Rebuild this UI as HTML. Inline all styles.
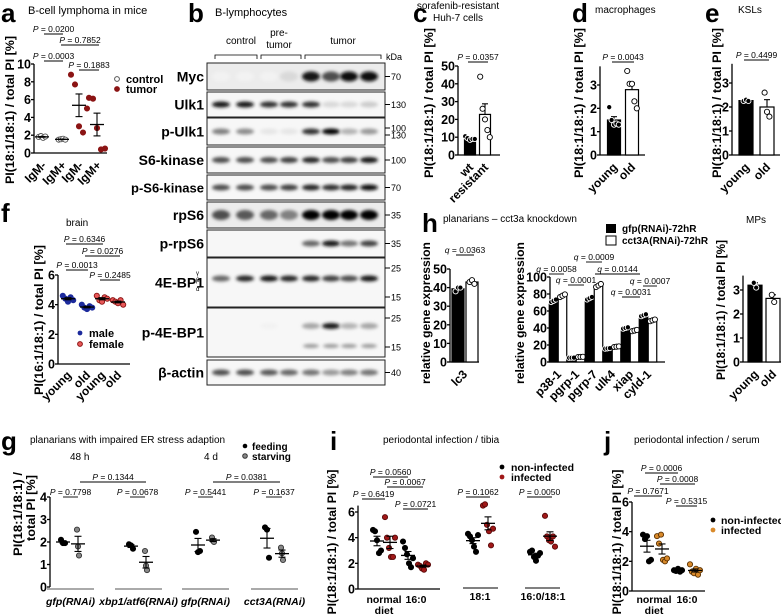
<!DOCTYPE html>
<html><head><meta charset="utf-8"><style>
html,body{margin:0;padding:0;background:#fff}
svg{display:block;font-family:"Liberation Sans",Arial,sans-serif}
</style></head><body>
<svg id="fig" width="781" height="614" viewBox="0 0 781 614" xmlns="http://www.w3.org/2000/svg">
<defs><filter id="blur" x="-50%" y="-100%" width="200%" height="300%"><feGaussianBlur stdDeviation="1.6"/></filter></defs>
</svg>
<script>
// ---------- data ----------
const aGroups=[[1.8,1.9,1.7,1.85],[1.5,1.55,1.6,1.5],[8.8,7.7,3.0,2.3,5.0],[6.2,6.1,2.8,0.4,0.5]];
const aLabels=["IgM-","IgM+","IgM-","IgM+"];
const fGroups=[[4.6,4.4,4.2,4.5,4.3],[4.0,3.8,3.7,3.9,3.8],[4.6,4.3,4.2,4.5,4.4],[4.3,4.2,4.1,4.3,4.0]];
const fLabels=["young","old","young","old"];
const cWt=[10.5,9.5,8.5,9,9];
const cRes=[44,26,20,14,10];
const cLabels=["wt","resistant"];
const dYoung=[2.05,1.5,1.3,1.35,1.3];
const dOld=[3.6,3.05,3.05,2.3,2.0];
const eYoung=[2.25,2.3,2.25];
const eOld=[2.6,1.8,1.6];
const ageLabels=["young","old"];
const hLc3Gfp=[38,40,40];
const hLc3Cct=[43,44,42];
const hGenes=["p38-1","pgrp-1","pgrp-7","ulk4","xiap","cyld-1"];
const hGfp=[72,5,75,16,40,55];
const hCct=[78,6,90,18,37,49];
const mpYoung=[3.3,3.1];
const mpOld=[2.8,2.5];
const gFeeding=[[2.1,1.95,1.95],[1.9,1.85,1.7],[2.45,1.55,1.6],[2.65,2.55,1.3]];
const gStarving=[[2.55,1.8,1.4],[1.6,0.95,0.75],[2.2,2.05,2.0],[1.75,1.5,1.2]];
const gLabels=["gfp(RNAi)","xbp1/atf6(RNAi)","gfp(RNAi)","cct3A(RNAi)"];
const iNon=[[4.6,4.5,3.8,2.8,3.0],[3.7,3.2,2.7,2.0,1.7,2.4],[4.3,4.1,3.8,3.3,2.9,4.2],[2.9,3.0,2.5,2.2,2.6,2.8]];
const iInf=[[5.6,4.0,3.2,2.5,2.5,4.0],[1.9,1.8,1.6,1.5,2.0,1.9],[6.5,6.6,5.0,4.5,3.4,4.7],[5.7,4.1,3.8,3.7,4.1,3.3]];
const jNon=[[3.8,3.5,3.7,2.0,2.1],[1.4,1.35,1.5,1.3,1.4]];
const jInf=[[3.7,3.2,3.8,2.1,2.0,2.2],[1.8,1.3,1.2,1.5,1.1,1.4]];
const blotRows=["Myc","Ulk1","p-Ulk1","S6-kinase","p-S6-kinase","rpS6","p-rpS6","4E-BP1","p-4E-BP1","β-actin"];
const blotIntensity=[[0.05,0.05,0.05,0.15,0.9,0.7,0.95,0.95],[0.9,0.9,0.8,0.8,0.8,0.15,0.15,0.2],[0.5,0.45,0.1,0.1,0.8,1,0.3,0.4],[0.7,0.7,0.7,0.75,0.85,0.7,0.75,0.9],[0.7,0.7,0.7,0.75,0.85,0.8,0.85,0.95],[0.7,0.65,0.6,0.5,1,1,1,1],[0,0,0,0,0.6,0.9,0.55,0.75],[0.6,0.85,0.9,0.85,0.85,0.75,0.7,0.9],[0,0.03,0.05,0,0.35,0.9,0.3,0.35],[0.7,0.7,0.65,0.6,0.55,0.4,0.5,0.55]];

// ---------- helpers ----------
const svg=document.getElementById('fig');
const NS='http://www.w3.org/2000/svg';
function mk(tag,attrs,name){const e=document.createElementNS(NS,tag);for(const k in attrs)e.setAttribute(k,attrs[k]);


svg.appendChild(e);return e;}
function txt(x,y,s,name,opt){opt=opt||{};const t=mk('text',{x:x,y:y,'font-size':opt.size||11,'font-weight':opt.bold?'bold':'normal','text-anchor':opt.anchor||'start',fill:opt.fill||'#000','font-style':opt.italic?'italic':'normal'},name);
if(opt.len){t.setAttribute('textLength',opt.len);t.setAttribute('lengthAdjust','spacingAndGlyphs');}
if(opt.rot!==undefined)t.setAttribute('transform','rotate('+opt.rot+' '+x+' '+y+')');t.textContent=s;return t;}
function ytitle(x,y,s,name,len,size){return txt(x,y,s,name,{bold:1,size:size||12,anchor:'middle',rot:-90,len:len});}
function line(x1,y1,x2,y2,name,w,c){return mk('line',{x1:x1,y1:y1,x2:x2,y2:y2,stroke:c||'#000','stroke-width':w||1.3},name);}
function mean(a){return a.reduce((s,v)=>s+v,0)/a.length;}
function sem(a){const m=mean(a);return Math.sqrt(a.reduce((s,v)=>s+(v-m)*(v-m),0)/(a.length-1))/Math.sqrt(a.length);}
function axis(p,name){
  p.scale=v=>p.y0-(v/p.max)*(p.y0-p.yTop);
  line(p.ax,p.scale(p.top||p.max),p.ax,p.y0,name+'-y-axis',1.3);
  if(p.xEnd)line(p.ax,p.y0,p.xEnd,p.y0,name+'-x-axis',1.3);
  p.ticks.forEach(t=>{const y=p.scale(t);line(p.ax-3,y,p.ax,y,name+'-y-tick');txt(p.ax-3,y+4.5,String(t),name+'-y-tick-label',{bold:1,size:p.fs||12.5,anchor:'end'});});
}
function sig(x1,x2,y,label,name,sym){sym=sym||'P';
  const t=txt((x1+x2)/2,y-2,'',name+'-significance',{size:8.5,anchor:'middle'});
  const a=document.createElementNS(NS,'tspan');a.setAttribute('font-style','italic');a.textContent=sym;t.appendChild(a);
  t.appendChild(document.createTextNode(' = '+label));
  line(x1,y,x2,y,name+'-significance-bar',0.9);}
function dots(p,x,vals,fill,stroke,name,spread){spread=spread||2.6;
  vals.forEach((v,i)=>{mk('circle',{cx:x+(i-(vals.length-1)/2)*spread,cy:p.scale(v),r:2.6,fill:fill,stroke:stroke,'stroke-width':0.9},name+'-point');});}
function meanSem(p,x,vals,name,c){const m=mean(vals),s=sem(vals);c=c||'#000';
  line(x-7,p.scale(m),x+7,p.scale(m),name+'-mean',1.3,c);
  line(x,p.scale(m-s),x,p.scale(m+s),name+'-sem',1.1,c);
  line(x-3.5,p.scale(m+s),x+3.5,p.scale(m+s),name+'-sem-cap',1.1,c);
  line(x-3.5,p.scale(m-s),x+3.5,p.scale(m-s),name+'-sem-cap',1.1,c);}
function bar(p,x,w,vals,black,name){const m=mean(vals),s=sem(vals);
  mk('rect',{x:x-w/2,y:p.scale(m),width:w,height:p.y0-p.scale(m),fill:black?'#000':'#fff',stroke:'#000','stroke-width':1.2},name+'-bar');
  line(x,p.scale(m),x,p.scale(m+s),name+'-error',1.1);line(x-3,p.scale(m+s),x+3,p.scale(m+s),name+'-error-cap',1.1);
  dots(p,x,vals,black?'#000':'#fff',black?'#fff':'#000',name,2.4);}
function rotLabels(labels,xs,y,name,size){labels.forEach((l,i)=>txt(xs[i]+4,y,l,name+'-x-label',{bold:1,size:size||12,anchor:'end',rot:-45}));}
function letter(x,y,s){txt(x,y,s,'panel-label-'+s,{bold:1,size:26});}

// ---------- panel a ----------
letter(1,22,'a');txt(28,14,'B-cell lymphoma in mice','panel-a-title',{size:11});
const pa={ax:34,y0:153,yTop:64,max:10,ticks:[0,2,4,6,8,10],xEnd:107};axis(pa,'panel-a');
const aX=[42,62,79,97];
aGroups.forEach((g,i)=>{const tum=i>=2;dots(pa,aX[i],g,tum?'#8b1414':'#fff',tum?'#8b1414':'#555','panel-a-'+(i+1),tum?4:2.2);meanSem(pa,aX[i],g,'panel-a-'+(i+1));});
aLabels.forEach((l,i)=>txt(aX[i]+5,166,l,'panel-a-x-label',{bold:1,size:12,anchor:'end',rot:-45}));
sig(44,63,34,'0.0200','panel-a');sig(61,99,45,'0.7852','panel-a');sig(44,63,61,'0.0003','panel-a');sig(79,99,70,'0.1883','panel-a');
ytitle(14,110,'PI(18:1/18:1) / total PI [%]','panel-a-y-title',148);
mk('circle',{cx:117,cy:79,r:2.4,fill:'#fff',stroke:'#555'},'legend-control-marker');txt(126,83,'control','legend-control',{bold:1,size:11});
mk('circle',{cx:117,cy:89,r:2.4,fill:'#8b1414',stroke:'#8b1414'},'legend-tumor-marker');txt(126,93,'tumor','legend-tumor',{bold:1,size:11});

// ---------- panel b ----------
letter(188,22,'b');txt(215,16,'B-lymphocytes','panel-b-title',{size:11});
txt(241,44,'control','group-control',{size:10,anchor:'middle'});txt(279,36,'pre-','group-pretumor',{size:10,anchor:'middle'});txt(279,48,'tumor','group-pretumor',{size:10,anchor:'middle'});txt(343,44,'tumor','group-tumor',{size:10,anchor:'middle'});
[[215,257],[261,301],[305,381]].forEach(b=>{mk('path',{d:'M'+b[0]+' 59 V55 H'+b[1]+' V59',fill:'none',stroke:'#000','stroke-width':0.8},'group-bracket');});
txt(386,60,'kDa','kda-label',{size:9});
const rowY=[[63,90],[92,117],[118,145],[147,173],[175,200],[202,228],[230,257],[258,307],[308,357],[360,385]];
const kda=[[70],[130],[100,130],[100],[70],[35],[35],[25,15],[25,15],[40]];
const lanes=[221,245,269,289,311,331,349,369];
rowY.forEach((r,ri)=>{
  mk('rect',{x:207,y:r[0],width:178,height:r[1]-r[0],fill:ri==0||ri==5?'#ececec':'#f7f7f7',stroke:'#222','stroke-width':1},'blot-'+blotRows[ri]+'-box');
  txt(204,(r[0]+r[1])/2+5,blotRows[ri],'blot-label-'+blotRows[ri],{bold:1,size:ri==4?13:14,anchor:'end'});
  const cy=ri==7?(r[0]+r[1])/2-4:ri==8?r[0]+18:(r[0]+r[1])/2;
  blotIntensity[ri].forEach((v,li)=>{if(v<=0)return;const g=Math.round(255*(1-v));
    mk('ellipse',{cx:lanes[li],cy:cy,rx:9,ry:ri==0||ri==5?5:3,fill:'rgb('+g+','+g+','+g+')',filter:'url(#blur)'},'band');
    if(ri==8&&v>0.2){mk('ellipse',{cx:lanes[li],cy:cy+20,rx:8,ry:2,fill:'#999',filter:'url(#blur)'},'band');}
  });
  const ks=kda[ri];ks.forEach((k,ki)=>{const y=ks.length==1?(r[0]+r[1])/2:(ki==0?r[0]+10:r[1]-10);line(385,y,390,y,'kda-tick',1);txt(391,y+3.5,String(k),'kda-value',{size:9});});
});
txt(196,275,'γ','isoform',{size:6});txt(196,282,'β','isoform',{size:6});txt(196,291,'α','isoform',{size:6});

// ---------- panel c ----------
letter(413,22,'c');txt(458,9,'sorafenib-resistant','panel-c-title',{size:10,anchor:'middle'});txt(458,21,'Huh-7 cells','panel-c-title',{size:10,anchor:'middle'});
const pc={ax:458,y0:155,yTop:66,max:50,ticks:[0,10,20,30,40,50],xEnd:500};axis(pc,'panel-c');
bar(pc,470,11,cWt,true,'panel-c-wt');bar(pc,485,11,cRes,false,'panel-c-resistant');
txt(474,168,'wt','panel-c-x-label',{bold:1,size:12,anchor:'end',rot:-45});txt(489,168,'resistant','panel-c-x-label',{bold:1,size:12,anchor:'end',rot:-45});
sig(468,488,62,'0.0357','panel-c');
ytitle(433,103,'PI(18:1/18:1) / total  PI [%]','panel-c-y-title',150);

// ---------- panel d ----------
letter(572,22,'d');txt(595,13,'macrophages','panel-d-title',{size:10});
const pd={ax:600,y0:155,yTop:85,max:3,top:3.8,ticks:[0,1,2,3],xEnd:645};axis(pd,'panel-d');
bar(pd,614,13,dYoung,true,'panel-d-young');bar(pd,632,13,dOld,false,'panel-d-old');
txt(618,168,'young','panel-d-x-label',{bold:1,size:12,anchor:'end',rot:-45});txt(636,168,'old','panel-d-x-label',{bold:1,size:12,anchor:'end',rot:-45});
sig(612,634,62,'0.0043','panel-d');
ytitle(583,103,'PI(18:1/18:1) / total  PI [%]','panel-d-y-title',150);

// ---------- panel e ----------
letter(705,22,'e');txt(738,13,'KSLs','panel-e-title',{size:10});
const pe={ax:732,y0:155,yTop:83,max:3,top:3.8,ticks:[0,1,2,3],xEnd:780};axis(pe,'panel-e');
bar(pe,746,14,eYoung,true,'panel-e-young');bar(pe,767,14,eOld,false,'panel-e-old');
txt(750,168,'young','panel-e-x-label',{bold:1,size:12,anchor:'end',rot:-45});txt(771,168,'old','panel-e-x-label',{bold:1,size:12,anchor:'end',rot:-45});
sig(744,769,60,'0.4499','panel-e');
ytitle(721,103,'PI(18:1/18:1) / total  PI [%]','panel-e-y-title',150);

// ---------- panel f ----------
letter(1,222,'f');txt(66,226,'brain','panel-f-title',{size:10});
const pf={ax:58,y0:364,yTop:275,max:6,ticks:[0,2,4,6],xEnd:130};axis(pf,'panel-f');
const fX=[68,87,102,118];
fGroups.forEach((g,i)=>{const m=i<2;dots(pf,fX[i],g,m?'#1c2a9c':'#e85858',m?'#1c2a9c':'#8b1414','panel-f-'+(i+1),2.6);meanSem(pf,fX[i],g,'panel-f-'+(i+1));});
rotLabels(fLabels,fX,376,'panel-f');
sig(66,103,244,'0.6346','panel-f');sig(85,120,256,'0.0276','panel-f');sig(66,88,270,'0.0013','panel-f');sig(100,120,280,'0.2485','panel-f');
mk('circle',{cx:80,cy:333,r:2.4,fill:'#1c2a9c'},'legend-male-marker');txt(89,337,'male','legend-male',{bold:1,size:11});
mk('circle',{cx:80,cy:344,r:2.4,fill:'#e85858',stroke:'#8b1414'},'legend-female-marker');txt(89,348,'female','legend-female',{bold:1,size:11});
ytitle(43,320,'PI(16:1/18:1) / total PI [%]','panel-f-y-title',150);

// ---------- panel h ----------
letter(422,232,'h');txt(443,222,'planarians – cct3a knockdown','panel-h-title',{size:10});
mk('rect',{x:606,y:224,width:10,height:9,fill:'#000'},'legend-gfp-marker');txt(622,232,'gfp(RNAi)-72hR','legend-gfp',{bold:1,size:10});
mk('rect',{x:606,y:236,width:10,height:9,fill:'#fff',stroke:'#000'},'legend-cct3a-marker');txt(622,244,'cct3A(RNAi)-72hR','legend-cct3a',{bold:1,size:10});
const ph1={ax:450,y0:362,yTop:269,max:50,ticks:[0,10,20,30,40,50],xEnd:479};axis(ph1,'panel-h-lc3');
bar(ph1,458,12,hLc3Gfp,true,'panel-h-lc3-gfp');bar(ph1,472,12,hLc3Cct,false,'panel-h-lc3-cct3a');
txt(468,375,'lc3','panel-h-x-label',{bold:1,size:12,anchor:'end',rot:-45});
sig(456,474,255,'0.0363','panel-h','q');
ytitle(430,313,'relative gene expression','panel-h-y-title',142);
const ph2={ax:550,y0:362,yTop:277,max:100,ticks:[0,20,40,60,80,100],xEnd:665};axis(ph2,'panel-h-genes');
const hX=[558,576,594,612,630,648];
hGenes.forEach((g,i)=>{bar(ph2,hX[i]-4.5,8.5,[hGfp[i]*0.98,hGfp[i],hGfp[i]*1.02],true,'panel-h-'+g+'-gfp');bar(ph2,hX[i]+4.5,8.5,[hCct[i]*0.98,hCct[i],hCct[i]*1.02],false,'panel-h-'+g+'-cct3a');});
rotLabels(hGenes,hX,375,'panel-h-genes');
sig(549,564,274,'0.0058','panel-h','q');sig(568,584,285,'0.0001','panel-h','q');sig(586,602,262,'0.0009','panel-h','q');sig(595,640,274,'0.0144','panel-h','q');sig(622,640,297,'0.0031','panel-h','q');sig(643,657,286,'0.0007','panel-h','q');
ytitle(524,313,'relative gene expression','panel-h2-y-title',142);
txt(746,223,'MPs','panel-mp-title',{size:10});
const pm={ax:743,y0:362,yTop:290,max:3,top:3.6,ticks:[0,1,2,3],xEnd:781};axis(pm,'panel-mp');
bar(pm,755,14,mpYoung,true,'panel-mp-young');bar(pm,773,14,mpOld,false,'panel-mp-old');
txt(759,375,'young','panel-mp-x-label',{bold:1,size:12,anchor:'end',rot:-45});txt(777,375,'old','panel-mp-x-label',{bold:1,size:12,anchor:'end',rot:-45});
ytitle(725,310,'PI(18:1/18:1) / total  PI [%]','panel-mp-y-title',140);

// ---------- panel g ----------
letter(1,450,'g');txt(30,443,'planarians with impaired ER stress adaption','panel-g-title',{size:10});
txt(70,460,'48 h','panel-g-48h',{size:10});txt(204,460,'4 d','panel-g-4d',{size:10});
mk('circle',{cx:245,cy:446,r:2.3,fill:'#000'},'legend-feeding-marker');txt(252,450,'feeding','legend-feeding',{bold:1,size:10});
mk('circle',{cx:245,cy:456,r:2.3,fill:'#888',stroke:'#333'},'legend-starving-marker');txt(252,460,'starving','legend-starving',{bold:1,size:10});
const pg={ax:50,y0:587,yTop:497,max:4,ticks:[0,1,2,3,4]};axis(pg,'panel-g');
const gX=[[63,78],[131,146],[198,213],[267,282]];
gFeeding.forEach((g,i)=>{dots(pg,gX[i][0],g,'#000','#000','panel-g-feeding',2);meanSem(pg,gX[i][0],g,'panel-g-feeding');
  dots(pg,gX[i][1],gStarving[i],'#888','#333','panel-g-starving',1);meanSem(pg,gX[i][1],gStarving[i],'panel-g-starving');
  line(gX[i][0]-16,589,gX[i][1]+16,589,'panel-g-group-line',1,'#555');
  txt((gX[i][0]+gX[i][1])/2,605,gLabels[i],'panel-g-x-label',{bold:1,italic:1,size:10.5,anchor:'middle'});});
sig(80,146,482,'0.1344','panel-g');sig(213,280,482,'0.0381','panel-g');
sig(63,78,497,'0.7798','panel-g');sig(130,145,497,'0.0678','panel-g');sig(198,213,497,'0.5441','panel-g');sig(266,282,497,'0.1637','panel-g');
ytitle(22,514,'PI(18:1/18:1) /','panel-g-y-title',84);ytitle(35,508,'total PI [%]','panel-g-y-title',66);

// ---------- panel i ----------
letter(330,450,'i');txt(383,443,'periodontal infection / tibia','panel-i-title',{size:10});
const pi={ax:358,y0:589,yTop:512,max:6,top:6.5,ticks:[0,2,4,6],xEnd:440};axis(pi,'panel-i');
const iX=[[377,390],[408,423],[473,488],[535,550]];
iNon.forEach((g,k)=>{dots(pi,iX[k][0],g,'#000','#000','panel-i-noninfected',2);meanSem(pi,iX[k][0],g,'panel-i-noninfected');
  dots(pi,iX[k][1],iInf[k],'#a01818','#5a0a0a','panel-i-infected',2);meanSem(pi,iX[k][1],iInf[k],'panel-i-infected');});
line(463,588,498,588,'panel-i-group-line',1);line(525,588,560,588,'panel-i-group-line',1);
txt(384,603,'normal','panel-i-x-label',{bold:1,size:10.5,anchor:'middle'});txt(384,614,'diet','panel-i-x-label',{bold:1,size:10.5,anchor:'middle'});
txt(416,603,'16:0','panel-i-x-label',{bold:1,size:10.5,anchor:'middle'});txt(480,600,'18:1','panel-i-x-label',{bold:1,size:10.5,anchor:'middle'});txt(543,600,'16:0/18:1','panel-i-x-label',{bold:1,size:10.5,anchor:'middle'});
sig(373,408,477,'0.0560','panel-i');sig(387,423,487,'0.0067','panel-i');sig(362,385,499,'0.6419','panel-i');sig(403,428,509,'0.0721','panel-i');
sig(466,490,497,'0.1062','panel-i');sig(527,552,497,'0.0050','panel-i');
mk('circle',{cx:502,cy:467,r:2.4,fill:'#000'},'legend-noninfected-marker');txt(511,471,'non-infected','legend-noninfected',{bold:1,size:10.5});
mk('circle',{cx:502,cy:477,r:2.4,fill:'#a01818'},'legend-infected-marker');txt(511,481,'infected','legend-infected',{bold:1,size:10.5});
ytitle(336,542,'PI(18:1/18:1) / total PI [%]','panel-i-y-title',145);

// ---------- panel j ----------
letter(604,450,'j');txt(634,443,'periodontal infection / serum','panel-j-title',{size:10});
const pj={ax:632,y0:591,yTop:502,max:6,ticks:[0,2,4,6],xEnd:705};axis(pj,'panel-j');
const jX=[[647,662],[678,695]];
jNon.forEach((g,k)=>{dots(pj,jX[k][0],g,'#000','#000','panel-j-noninfected',2);meanSem(pj,jX[k][0],g,'panel-j-noninfected');
  dots(pj,jX[k][1],jInf[k],'#d98a2b','#5a3000','panel-j-infected',2);meanSem(pj,jX[k][1],jInf[k],'panel-j-infected');});
txt(654,603,'normal','panel-j-x-label',{bold:1,size:10.5,anchor:'middle'});txt(654,614,'diet','panel-j-x-label',{bold:1,size:10.5,anchor:'middle'});txt(687,603,'16:0','panel-j-x-label',{bold:1,size:10.5,anchor:'middle'});
sig(645,678,473,'0.0006','panel-j');sig(660,695,484,'0.0008','panel-j');sig(634,662,496,'0.7671','panel-j');sig(676,697,506,'0.5315','panel-j');
mk('circle',{cx:713,cy:520,r:2.4,fill:'#000'},'legend-j-noninfected-marker');txt(721,524,'non-infected','legend-j-noninfected',{bold:1,size:10.5});
mk('circle',{cx:713,cy:530,r:2.4,fill:'#d98a2b'},'legend-j-infected-marker');txt(721,534,'infected','legend-j-infected',{bold:1,size:10.5});
ytitle(621,542,'PI(18:1/18:1) / total PI [%]','panel-j-y-title',145);
</script>
</body></html>
